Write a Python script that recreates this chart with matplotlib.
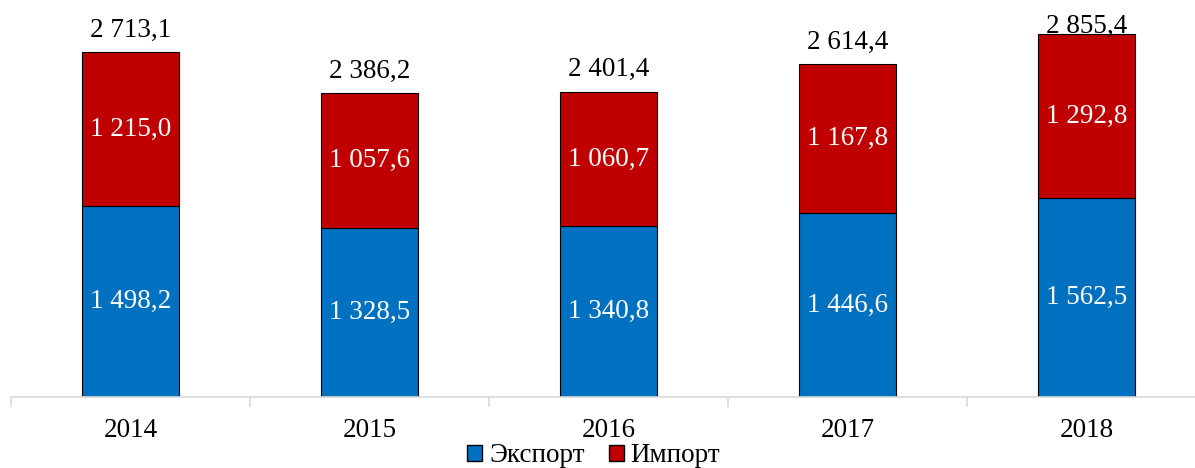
import numpy as np
import matplotlib.pyplot as plt
from matplotlib.patches import Patch

plt.rcParams['font.family'] = ['Liberation Serif', 'DejaVu Serif']

years = ['2014', '2015', '2016', '2017', '2018']
export = [1498.2, 1328.5, 1340.8, 1446.6, 1562.5]
imports = [1215.0, 1057.6, 1060.7, 1167.8, 1292.8]
totals = [2713.1, 2386.2, 2401.4, 2614.4, 2855.4]

blue = '#0070C0'
red = '#C00000'
fs = 19.5


def fmt(v):
    s = f"{v:,.1f}".replace(',', ' ').replace('.', ',')
    return s


fig = plt.figure(figsize=(11.95, 4.68), dpi=100)
# category width ~239 px, the axis runs past the right edge of the picture
ax = fig.add_axes([11 / 1195, 71 / 468, 1195 / 1195, 0.8154])

x = np.arange(len(years))
w = 0.405
ax.bar(x, export, w, color=blue, edgecolor='black', linewidth=0.8)
ax.bar(x, imports, w, bottom=export, color=red, edgecolor='black', linewidth=0.8)

for i in range(len(years)):
    ax.text(x[i], export[i] / 2, fmt(export[i]), ha='center', va='center',
            color='white', fontsize=fs)
    ax.text(x[i], export[i] + imports[i] / 2, fmt(imports[i]), ha='center', va='center',
            color='white', fontsize=fs)
    # total label above the bar, pushed down when it would leave the chart
    ty = min(totals[i] + 120, 2862)
    ax.text(x[i], ty, fmt(totals[i]), ha='center', va='baseline',
            color='black', fontsize=fs, clip_on=False)

ax.set_xlim(-0.5, len(years) - 0.5)
ax.set_ylim(0, 3000)
ax.set_yticks([])
for s in ['top', 'right', 'left']:
    ax.spines[s].set_visible(False)
ax.spines['bottom'].set_color('#d9d9d9')
ax.spines['bottom'].set_linewidth(1.2)

ax.set_xticks(x)
ax.set_xticklabels(years, fontsize=fs)
ax.tick_params(axis='x', length=0, pad=15)
ax.set_xticks(np.arange(-0.5, len(years)), minor=True)
ax.tick_params(axis='x', which='minor', length=7, color='#d9d9d9', width=1.2)

handles = [Patch(facecolor=blue, edgecolor='black', label='Экспорт'),
           Patch(facecolor=red, edgecolor='black', label='Импорт')]
fig.legend(handles=handles, loc='center', bbox_to_anchor=(0.497, 12 / 468), ncol=2,
           frameon=False, fontsize=fs, handlelength=0.55, handleheight=0.55,
           handletextpad=0.25, columnspacing=0.9, borderpad=0)

fig.savefig('out.png', dpi=100)
